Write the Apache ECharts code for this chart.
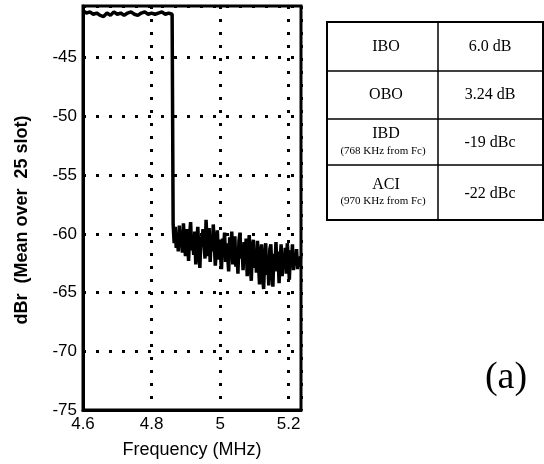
<!DOCTYPE html>
<html><head><meta charset="utf-8">
<script src="https://cdn.jsdelivr.net/npm/echarts@6/dist/echarts.min.js"></script>
<style>html,body{margin:0;padding:0;background:#fff}#c{width:544px;height:464px}</style>
</head><body><div id="c"></div>
<script>
// ---- data ----
const xTicks = [4.6, 4.8, 5.0, 5.2];
const yTicks = [-75, -70, -65, -60, -55, -50, -45];
const bandStart = 4.60, bandStep = 0.01;
const bandLevels = [-41.0, -41.2, -41.1, -41.3, -41.2, -41.4, -41.5, -41.2, -41.4, -41.1,
  -41.3, -41.2, -41.4, -41.2, -41.1, -41.3, -41.4, -41.2, -41.1, -41.3,
  -41.2, -41.3, -41.2, -41.1, -41.3, -41.2, -41.3];
const noiseStart = 4.863, noiseStep = 0.003;
const noiseLevels = [
  -59.2, -60.8, -59.4, -61.2, -60.0, -61.5, -59.3, -60.9, -60.2, -61.6,
  -59.1, -60.7, -61.9, -59.6, -60.4, -62.3, -60.1, -59.0, -61.4, -60.6,
  -61.8, -59.8, -62.6, -60.5, -59.4, -61.7, -62.9, -60.2, -61.1, -59.6,
  -60.9, -62.1, -58.8, -60.6, -61.9, -59.5, -62.4, -60.3, -61.5, -59.2,
  -60.8, -62.7, -61.2, -59.7, -62.2, -60.5, -61.8, -63.0, -60.4, -61.3,
  -59.9, -62.4, -60.8, -61.9, -63.2, -60.3, -61.5, -59.8, -62.6, -61.0,
  -60.2, -62.8, -61.3, -63.4, -60.6, -59.9, -62.1, -61.0, -63.1, -60.7,
  -62.3, -60.4, -63.6, -61.5, -60.1, -62.7, -64.0, -61.2, -60.5, -62.9,
  -61.4, -63.3, -60.6, -62.5, -64.3, -61.8, -60.9, -63.7, -64.7, -62.0,
  -60.8, -63.5, -62.1, -64.4, -61.3, -60.9, -63.0, -64.5, -61.7, -62.8,
  -60.7, -63.2, -61.5, -64.2, -62.4, -60.9, -63.6, -61.8, -62.9, -61.2,
  -63.4, -60.8, -62.2, -63.9, -61.4, -62.7, -60.9, -63.1, -61.8, -62.6,
  -61.3, -63.0, -62.0, -62.8, -61.9];
const tableParams = ['IBO', 'OBO', 'IBD', 'ACI'];
const tableNotes = ['', '', '(768 KHz from Fc)', '(970 KHz from Fc)'];
const tableValues = ['6.0 dB', '3.24 dB', '-19 dBc', '-22 dBc'];
const panelLabel = '(a)';

// ---- build ----
const data = bandLevels.map((v, i) => [+(bandStart + i * bandStep).toFixed(4), v])
  .concat(noiseLevels.map((v, i) => [+(noiseStart + i * noiseStep).toFixed(4), v]));

const chart = echarts.init(document.getElementById('c'), null, {renderer: 'canvas'});
const dotted = {color: '#000', width: 3, type: [3, 10]};
const sans = 'Liberation Sans';
const serif = 'Liberation Serif';

const tbl = {x0: 327, x1: 543, xm: 438, rows: [22, 71, 119, 165, 220]};
const graphics = [];
graphics.push({type: 'rect', shape: {x: tbl.x0, y: tbl.rows[0], width: tbl.x1 - tbl.x0, height: tbl.rows[4] - tbl.rows[0]},
  style: {fill: 'none', stroke: '#000', lineWidth: 2}});
graphics.push({type: 'line', shape: {x1: tbl.xm, y1: tbl.rows[0], x2: tbl.xm, y2: tbl.rows[4]}, style: {stroke: '#000', lineWidth: 1.5}});
for (let r = 1; r < 4; r++) {
  graphics.push({type: 'line', shape: {x1: tbl.x0, y1: tbl.rows[r], x2: tbl.x1, y2: tbl.rows[r]}, style: {stroke: '#000', lineWidth: 1.5}});
}
const c1 = 386, c2 = 490;
tableParams.forEach((p, r) => {
  const mid = (tbl.rows[r] + tbl.rows[r + 1]) / 2;
  const hasNote = tableNotes[r] !== '';
  graphics.push({type: 'text', x: c1, y: hasNote ? mid - 8 : mid,
    style: {text: p, fontFamily: serif, fontSize: 16, fill: '#000', align: 'center', verticalAlign: 'middle'}});
  if (hasNote) {
    graphics.push({type: 'text', x: c1 - 3, y: mid + 9,
      style: {text: tableNotes[r], fontFamily: serif, fontSize: 11, fill: '#000', align: 'center', verticalAlign: 'middle'}});
  }
  graphics.push({type: 'text', x: c2, y: mid + (hasNote ? 1 : 0),
    style: {text: tableValues[r], fontFamily: serif, fontSize: 16, fill: '#000', align: 'center', verticalAlign: 'middle'}});
});
graphics.push({type: 'text', x: 506, y: 378,
  style: {text: panelLabel, fontFamily: serif, fontSize: 38, fill: '#000', align: 'center', verticalAlign: 'middle'}});

chart.setOption({
  animation: false,
  backgroundColor: '#fff',
  grid: {left: 83, right: 243, top: 6, bottom: 53, show: true, borderColor: '#000', borderWidth: 3, backgroundColor: 'transparent'},
  xAxis: {
    type: 'value', min: 4.6, max: 5.236, interval: 0.2,
    name: 'Frequency (MHz)', nameLocation: 'middle', nameGap: 31,
    nameTextStyle: {fontFamily: sans, fontSize: 18, color: '#000'},
    axisLine: {show: true, lineStyle: {color: '#000', width: 3}},
    axisTick: {show: false},
    axisLabel: {margin: 6, fontFamily: sans, fontSize: 17, color: '#000',
      formatter: v => xTicks.some(t => Math.abs(t - v) < 1e-6) ? String(+(+v).toFixed(1)) : ''},
    splitLine: {show: true, lineStyle: dotted}
  },
  yAxis: {
    type: 'value', min: -75, max: -40.6, interval: 5,
    name: 'dBr  (Mean over  25 slot)', nameLocation: 'middle', nameGap: 52, nameRotate: 90,
    nameTextStyle: {fontFamily: sans, fontSize: 18, fontWeight: 'bold', color: '#000', padding: [0, 24, 0, 0]},
    axisLine: {show: true, lineStyle: {color: '#000', width: 3}},
    axisTick: {show: false},
    axisLabel: {margin: 6, fontFamily: sans, fontSize: 17, color: '#000',
      formatter: v => yTicks.some(t => Math.abs(t - v) < 1e-6) ? String(Math.round(v)) : ''},
    splitLine: {show: true, lineStyle: dotted}
  },
  series: [{
    type: 'line', data: data, showSymbol: false, symbol: 'none',
    lineStyle: {color: '#000', width: 3.5}, z: 3
  }],
  graphic: graphics
});
</script></body></html>
